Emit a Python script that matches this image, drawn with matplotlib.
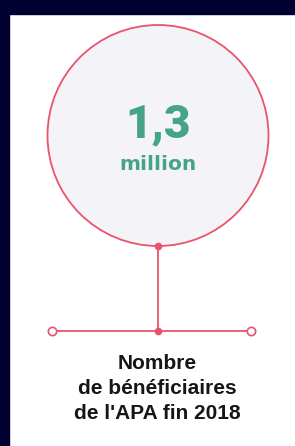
import matplotlib.pyplot as plt
from matplotlib.patches import Circle, Rectangle

# chart content
value_text = '1,3'
unit_text = 'million'
label_lines = ['Nombre', 'de bénéficiaires', "de l'APA fin 2018"]

navy = '#010030'
red = '#e9546c'
teal = '#45a388'

fig = plt.figure(figsize=(2.95, 4.46), dpi=100)
fig.patch.set_facecolor('white')
ax = fig.add_axes([0, 0, 1, 1])
ax.set_xlim(0, 295)
ax.set_ylim(446, 0)
ax.axis('off')

# dark frame top / left
ax.add_patch(Rectangle((0, 0), 295, 14, color=navy, zorder=0))
ax.add_patch(Rectangle((0, 0), 9, 446, color=navy, zorder=0))

# big circle
cx, cy, r = 158, 135.5, 110.5
ax.add_patch(Circle((cx, cy), r, facecolor='#f4f4f8', edgecolor=red, lw=1.3, zorder=1))

ax.text(cx, 137, value_text, color=teal, fontsize=33, fontweight='heavy',
        ha='center', va='baseline', family='Roboto', zorder=3)
ax.text(cx, 170, unit_text, color=teal, fontsize=14.5, fontweight='bold',
        ha='center', va='baseline', family='DejaVu Sans', zorder=3)

# stem and baseline
ybase = 331
ax.plot([cx, cx], [cy + r, ybase], color=red, lw=1.3, zorder=2)
ax.plot([52, 251], [ybase, ybase], color=red, lw=1.3, zorder=2)
ax.plot([cx, cx], [cy + r, ybase], 'o', color=red, ms=4.5, zorder=4)
ax.plot([52, 251], [ybase, ybase], 'o', mfc='white', mec=red, mew=1.2, ms=6, zorder=4)

for i, line in enumerate(label_lines):
    ax.text(cx - 1, 369 + i * 25, line, color='#161616', fontsize=15, fontweight='bold',
            ha='center', va='baseline', family='Liberation Sans', zorder=3)

fig.savefig('out.png', dpi=100)
